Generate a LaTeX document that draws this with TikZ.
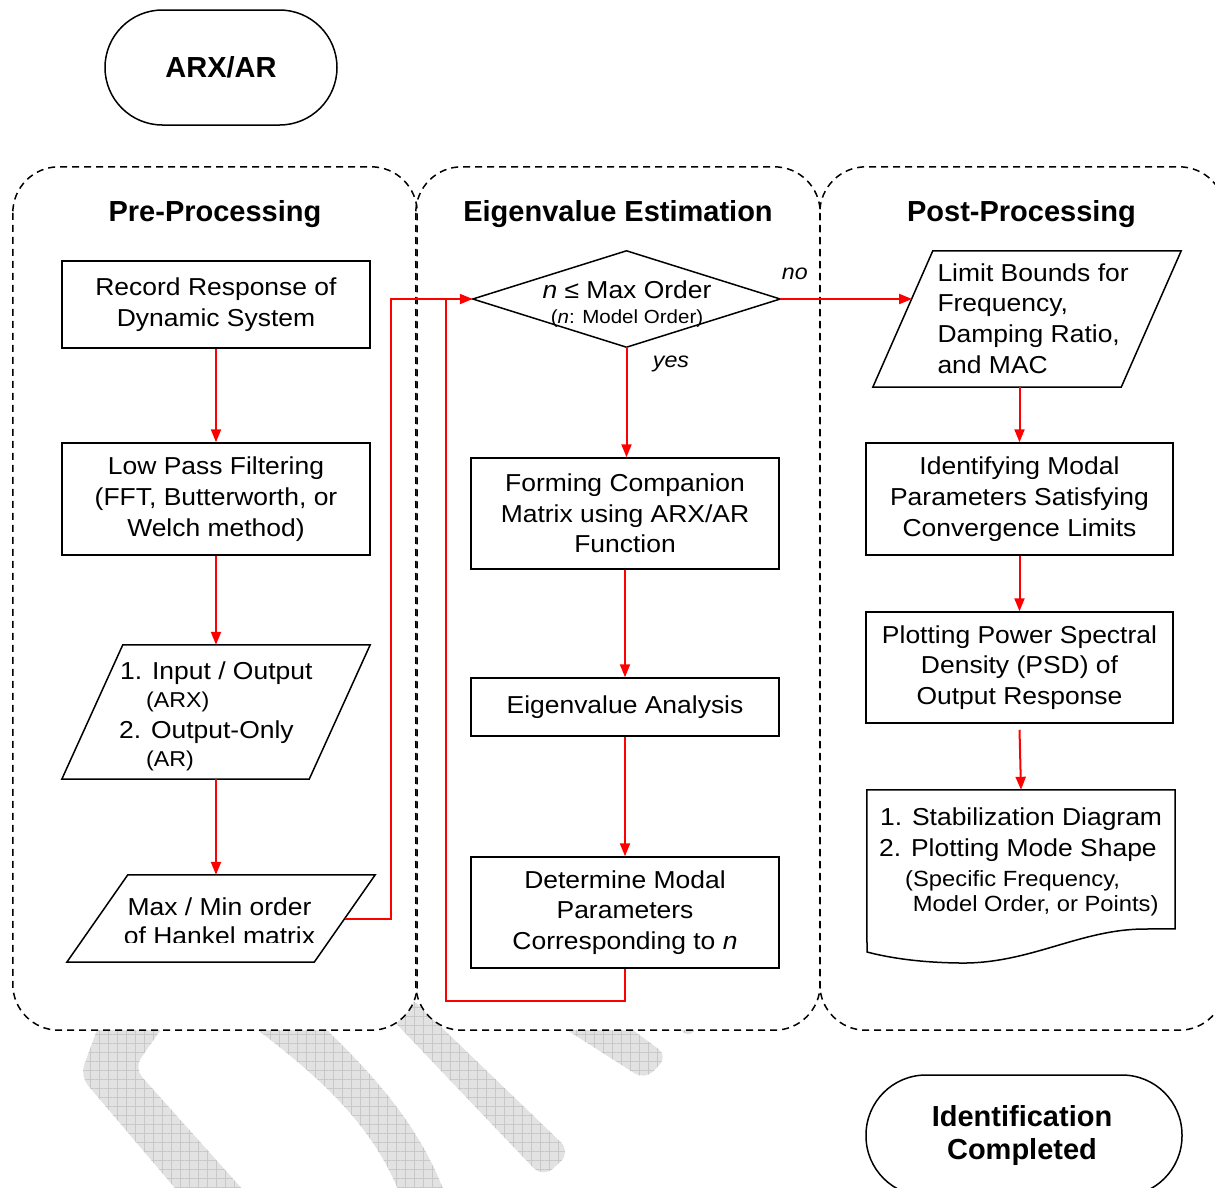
\documentclass[tikz,border=0pt]{standalone}
\usepackage{fontspec}
\setmainfont{Liberation Sans}[FakeStretch=1.08]
\newfontfamily\headfont{Liberation Sans}
\usetikzlibrary{arrows.meta,calc,patterns.meta}

% text sizes
\newcommand\txtmain{\fontsize{24.5}{30.7}\selectfont}
\newcommand\txtsmall{\fontsize{21.5}{26}\selectfont}
\newcommand\txttiny{\fontsize{19}{22}\selectfont}
\newcommand\txtnote{\fontsize{22}{26}\selectfont}
\newcommand\txthead{\headfont\bfseries\fontsize{29}{32}\selectfont}

\definecolor{flowred}{RGB}{255,0,0}
\definecolor{wmgray}{RGB}{226,226,226}
\definecolor{wmgrid}{RGB}{200,200,200}

\tikzset{
  outline/.style={draw=black, line width=1.5pt},
  procbox/.style={outline, rectangle, minimum width=308pt, inner sep=0pt, align=center, font=\txtmain},
  shapeframe/.style={rectangle, inner sep=0pt},
  panel/.style={rectangle, inner sep=0pt, minimum height=863pt, rounded corners=46pt, fill=white},
  panelline/.style={draw=black, line width=1.5pt, dash pattern=on 7pt off 5pt, rounded corners=46pt},
  heading/.style={anchor=base, font=\txthead, inner sep=0pt},
  txtline/.style={anchor=base west, inner sep=0pt, font=\txtmain},
  flow/.style={draw=flowred, line width=2pt},
  flowarrow/.style={flow, -{Triangle[length=13pt,width=10pt]}},
  terminal/.style={outline, rectangle, inner sep=0pt},
  watermark/.style={fill=wmgray,
    postaction={pattern={Lines[angle=0,distance=9pt,line width=0.7pt]}, pattern color=wmgrid},
    postaction={pattern={Lines[angle=90,distance=9pt,line width=0.7pt]}, pattern color=wmgrid}},
}

\begin{document}
\begin{tikzpicture}[x=1pt,y=-1pt]
\useasboundingbox (0,0) rectangle (1215,1187);
\clip (0,0) rectangle (1215,1187);

% background logo strokes
\fill[watermark, rounded corners=12pt] (110,995) -- (185,995) -- (134,1068) -- (252,1200) -- (185,1200) -- (80,1076) -- cycle;
\fill[watermark] (225,1005) .. controls (290,1055) and (370,1110) .. (402,1200) -- (447,1200) .. controls (420,1120) and (360,1060) .. (300,1005) -- cycle;
\fill[watermark, rounded corners=14pt] (369,995) -- (543,1178) -- (571,1152) -- (408,995) -- cycle;
\fill[watermark, rounded corners=12pt] (520,1000) -- (645,1080) -- (668,1056) -- (592,1000) -- cycle;
\fill[watermark] (688,1027) circle (7);

% swimlane panels
\node[panel, minimum width=404pt] (pre) at (215,598.5) {};
\node[panel, minimum width=404pt] (eig) at (618,598.5) {};
\node[panel, minimum width=405pt] (post) at (1022.5,598.5) {};
\draw[panelline] (pre.north west) rectangle (pre.south east);
\draw[panelline] (eig.north west) rectangle (eig.south east);
\draw[panelline] (post.north west) rectangle (post.south east);

\node[heading] (preTitle) at (215,221) {Pre-Processing};
\node[heading] (eigTitle) at (618,221) {Eigenvalue Estimation};
\node[heading] (postTitle) at (1021.5,221) {Post-Processing};

% terminals
\node[terminal, rounded corners=57.5pt, minimum width=232pt, minimum height=115pt, font=\txthead] (start) at (221,67.5) {ARX/AR};
\node[terminal, rounded corners=60pt, minimum width=316pt, minimum height=121pt] (finish) at (1024,1135.5) {};
\node[heading] (finishA) at (1022,1126.5) {Identification};
\node[heading] (finishB) at (1022,1159) {Completed};

% pre-processing
\node[procbox, minimum height=87pt] (rec) at (216,304.5) {Record Response of\\Dynamic System};
\node[procbox, minimum height=112pt] (lpf) at (216,499) {Low Pass Filtering\\(FFT, Butterworth, or\\Welch method)};

\node[shapeframe, minimum width=308pt, minimum height=134pt] (io) at (216,712) {};
\draw[outline] ($(io.north west)+(61,0)$) -- (io.north east) -- ($(io.south east)-(61,0)$) -- (io.south west) -- cycle;
\node[txtline] (io1) at (120,679.3) {1. Input / Output};
\node[txtline, font=\txtsmall] (io2) at (146,707.3) {(ARX)};
\node[txtline] (io3) at (119,738.3) {2. Output-Only};
\node[txtline, font=\txtsmall] (io4) at (146,766) {(AR)};

\node[shapeframe, minimum width=308pt, minimum height=87pt] (hank) at (221,918.5) {};
\draw[outline] ($(hank.north west)+(61,0)$) -- (hank.north east) -- ($(hank.south east)-(61,0)$) -- (hank.south west) -- cycle;
\begin{scope}
  \clip (60,860) rectangle (400,942.5);
  \node[anchor=base, inner sep=0pt, font=\txtmain] (hank1) at (219.5,915) {Max / Min order};
  \node[anchor=base, inner sep=0pt, font=\txtmain] (hank2) at (219.5,944) {of Hankel matrix};
\end{scope}

% eigenvalue estimation
\node[shapeframe, minimum width=307pt, minimum height=96pt] (test) at (626.5,299) {};
\draw[outline] (test.west) -- (test.north) -- (test.east) -- (test.south) -- cycle;
\node[anchor=base, inner sep=0pt, font=\txtmain] (test1) at (627,298.3) {\textit{n} ≤ Max Order};
\node[anchor=base, inner sep=0pt, font=\txttiny] (test2) at (627,323) {(\textit{n}: Model Order)};
\node[txtline, font=\txtsmall\itshape] (noLbl) at (781.7,279.3) {no};
\node[txtline, font=\txtsmall\itshape] (yesLbl) at (652.7,367) {yes};

\node[procbox, minimum height=111pt] (comp) at (625,513.5) {Forming Companion\\Matrix using ARX/AR\\Function};
\node[procbox, minimum height=58pt] (eiga) at (625,707) {Eigenvalue Analysis};
\node[procbox, minimum height=111pt] (modal) at (625,912.5) {Determine Modal\\Parameters\\Corresponding to \textit{n}};

% post-processing
\node[shapeframe, minimum width=308pt, minimum height=136pt] (bounds) at (1027,319) {};
\coordinate (bnw) at ($(bounds.north west)+(60,0)$);
\draw[outline] (bnw) -- (bounds.north east) -- ($(bounds.south east)-(60,0)$) -- (bounds.south west) -- cycle;
\node[anchor=west, inner sep=0pt, align=left, font=\txtmain] (boundsTxt) at (937.3,318.5) {Limit Bounds for\\Frequency,\\Damping Ratio,\\and MAC};

\node[procbox, minimum width=307pt, minimum height=112pt] (ident) at (1019.5,499) {Identifying Modal\\Parameters Satisfying\\Convergence Limits};
\node[procbox, minimum width=307pt, minimum height=111pt] (psd) at (1019.5,667.5) {Plotting Power Spectral\\Density (PSD) of\\Output Response};

\node[shapeframe, minimum width=308pt, minimum height=173pt] (stab) at (1021,876.5) {};
\draw[outline] (stab.north west) -- (stab.north east) -- ($(stab.north east)+(0,139)$)
  -- (1145,929) .. controls (1080,929) and (1030,964) .. (960,963)
  .. controls (920,962.5) and (890,958) .. (867,952) -- cycle;
\node[txtline] (stab1) at (880,825.7) {1. Stabilization Diagram};
\node[txtline] (stab2) at (879,856) {2. Plotting Mode Shape};
\node[txtline, font=\txtnote] (stab3) at (905,886) {(Specific Frequency,};
\node[txtline, font=\txtnote] (stab4) at (912.7,911.7) {Model Order, or Points)};

% connectors
\draw[flowarrow] (rec.south) -- (lpf.north);
\draw[flowarrow] (lpf.south) -- (lpf.south |- io.north);
\draw[flowarrow] (io.south) -- (io.south |- hank.north);

\coordinate (hankOut) at ($(hank.east)-(30.5,0)$);
\coordinate (riserA) at (391,0);
\coordinate (riserB) at (446,0);
\draw[flowarrow] (hankOut) -- (hankOut -| riserA) |- (test.west);
\coordinate (loopBottom) at ($(modal.south)+(0,32)$);
\draw[flow] (modal.south) -- (loopBottom) -| (riserB |- test.west);

\draw[flowarrow] (test.south) -- (test.south |- comp.north);
\draw[flowarrow] (comp.south) -- (eiga.north);
\draw[flowarrow] (eiga.south) -- (modal.north);

\coordinate (boundsIn) at ($(bnw)!0.3456!(bounds.south west)$);
\draw[flowarrow] (test.east) -- (test.east -| boundsIn);
\draw[flowarrow] (ident.north |- bounds.south) -- (ident.north);
\draw[flowarrow] (ident.south) -- (psd.north);
\draw[flowarrow] ($(psd.south)+(0,6)$) -- (stab.north);
\end{tikzpicture}
\end{document}
